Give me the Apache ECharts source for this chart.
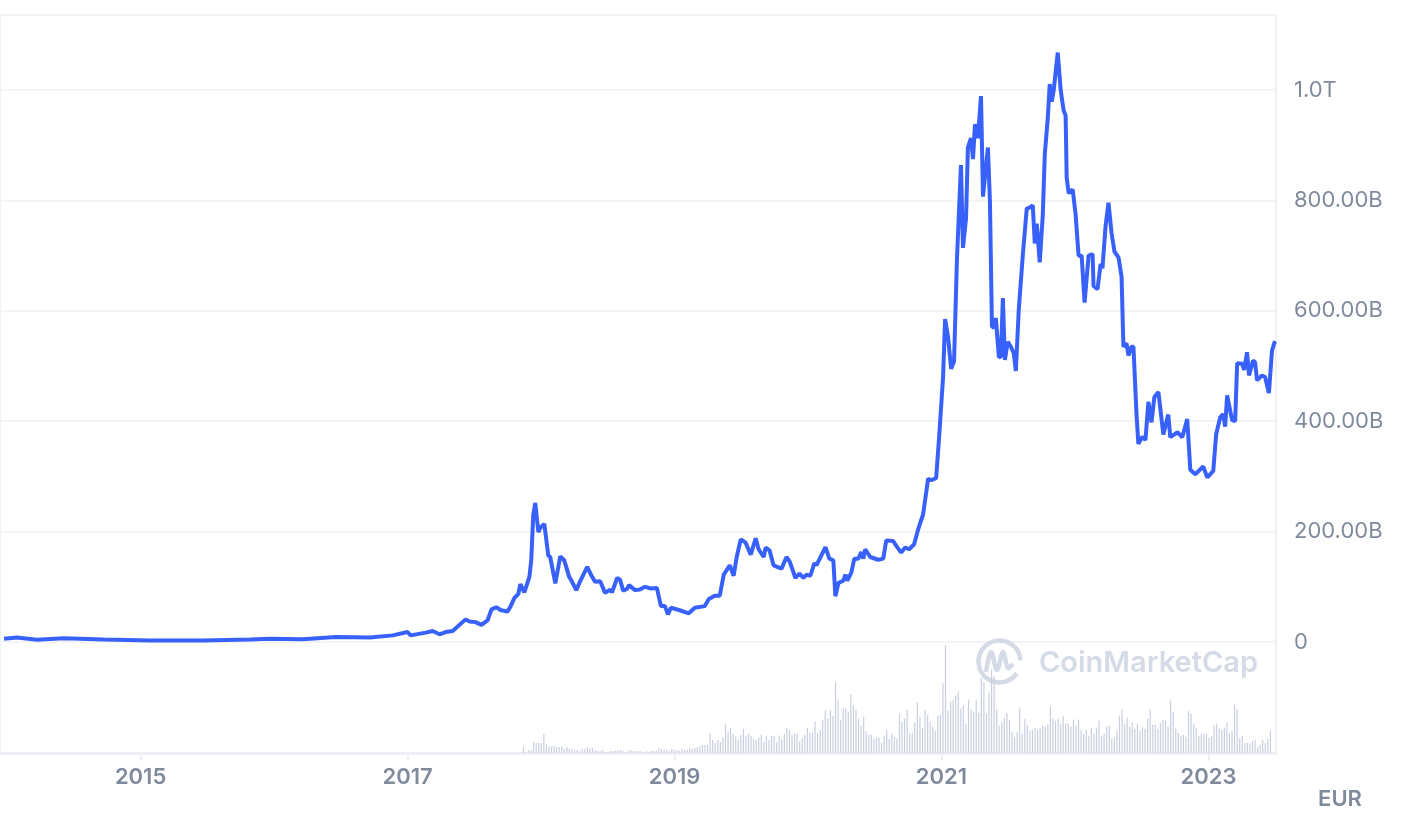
<!DOCTYPE html>
<html>
<head>
<meta charset="utf-8">
<title>Market cap chart</title>
<script src="https://cdn.jsdelivr.net/npm/echarts@6/dist/echarts.min.js"></script>
<style>
  html, body { margin: 0; padding: 0; background: #fff; }
  #chart { width: 1404px; height: 816px; }
</style>
</head>
<body>
<div id="chart"></div>
<script>
// market cap, billions EUR, dates as decimal years
const capYears = [
  2013.977, 2014.074, 2014.223, 2014.425, 2014.724, 2015.075, 2015.47, 2015.821, 2015.971, 2016.217,
  2016.464, 2016.718, 2016.889, 2017.0, 2017.024, 2017.136, 2017.188, 2017.24, 2017.285, 2017.338,
  2017.435, 2017.464, 2017.509, 2017.554, 2017.599, 2017.629, 2017.666, 2017.696, 2017.748, 2017.771,
  2017.801, 2017.83, 2017.845, 2017.875, 2017.913, 2017.927, 2017.942, 2017.957, 2017.98, 2017.995,
  2018.025, 2018.054, 2018.069, 2018.107, 2018.144, 2018.174, 2018.211, 2018.226, 2018.264, 2018.293,
  2018.346, 2018.376, 2018.405, 2018.443, 2018.48, 2018.517, 2018.532, 2018.57, 2018.592, 2018.615,
  2018.644, 2018.659, 2018.704, 2018.741, 2018.779, 2018.824, 2018.868, 2018.898, 2018.928, 2018.951,
  2018.973, 2019.033, 2019.107, 2019.152, 2019.227, 2019.257, 2019.302, 2019.339, 2019.369, 2019.414,
  2019.443, 2019.466, 2019.496, 2019.533, 2019.571, 2019.608, 2019.63, 2019.668, 2019.683, 2019.712,
  2019.742, 2019.802, 2019.839, 2019.862, 2019.906, 2019.936, 2019.966, 2019.989, 2020.018, 2020.048,
  2020.063, 2020.131, 2020.16, 2020.19, 2020.205, 2020.228, 2020.265, 2020.28, 2020.295, 2020.325,
  2020.347, 2020.377, 2020.399, 2020.414, 2020.429, 2020.466, 2020.526, 2020.564, 2020.586, 2020.638,
  2020.668, 2020.698, 2020.728, 2020.758, 2020.795, 2020.825, 2020.862, 2020.885, 2020.9, 2020.922,
  2020.96, 2020.982, 2021.012, 2021.027, 2021.049, 2021.072, 2021.094, 2021.116, 2021.146, 2021.161,
  2021.184, 2021.198, 2021.221, 2021.236, 2021.251, 2021.273, 2021.296, 2021.311, 2021.325, 2021.348,
  2021.363, 2021.378, 2021.393, 2021.407, 2021.43, 2021.445, 2021.46, 2021.475, 2021.497, 2021.52,
  2021.542, 2021.557, 2021.579, 2021.609, 2021.639, 2021.654, 2021.684, 2021.699, 2021.714, 2021.736,
  2021.759, 2021.774, 2021.796, 2021.811, 2021.826, 2021.841, 2021.871, 2021.893, 2021.915, 2021.93,
  2021.938, 2021.953, 2021.983, 2022.005, 2022.027, 2022.05, 2022.072, 2022.102, 2022.132, 2022.139,
  2022.169, 2022.192, 2022.206, 2022.229, 2022.251, 2022.274, 2022.296, 2022.326, 2022.349, 2022.363,
  2022.386, 2022.401, 2022.423, 2022.438, 2022.461, 2022.475, 2022.505, 2022.528, 2022.55, 2022.573,
  2022.595, 2022.625, 2022.662, 2022.699, 2022.714, 2022.767, 2022.804, 2022.841, 2022.864, 2022.901,
  2022.961, 2022.991, 2023.036, 2023.058, 2023.088, 2023.11, 2023.125, 2023.14, 2023.177, 2023.2,
  2023.215, 2023.252, 2023.267, 2023.289, 2023.304, 2023.334, 2023.349, 2023.364, 2023.401, 2023.424,
  2023.453, 2023.476, 2023.498
];
const capB = [
  6, 8, 4, 7, 4.5, 2.5, 2.5, 4.5, 6, 5,
  9, 8, 12, 18, 12, 17, 20, 14, 18, 20,
  41, 37, 36, 31, 39, 59, 63, 58, 55, 64,
  80, 87, 105, 90, 118, 149, 231, 252, 199, 207,
  214, 157, 154, 106, 155, 148, 118, 112, 94, 110,
  136, 121, 109, 110, 89, 95, 90, 116, 113, 93,
  96, 103, 94, 95, 100, 97, 98, 65, 65, 50,
  62, 58, 52, 62, 65, 78, 84, 84, 122, 139,
  120, 154, 186, 180, 158, 188, 168, 154, 171, 166,
  139, 133, 154, 146, 116, 124, 116, 122, 120, 143,
  139, 172, 151, 148, 83, 107, 111, 122, 111, 126,
  151, 151, 163, 151, 168, 154, 149, 151, 184, 183,
  172, 162, 171, 168, 177, 204, 231, 270, 296, 293,
  297, 370, 480, 585, 553, 495, 508, 694, 864, 714,
  768, 896, 913, 875, 938, 913, 989, 807, 841, 896,
  798, 572, 569, 587, 516, 517, 623, 511, 544, 535,
  523, 491, 602, 700, 786, 786, 791, 722, 758, 688,
  774, 884, 948, 1011, 979, 1000, 1068, 1000, 963, 954,
  841, 813, 820, 774, 700, 700, 615, 700, 703, 645,
  639, 685, 677, 753, 796, 741, 707, 697, 662, 535,
  541, 519, 535, 535, 413, 359, 372, 366, 435, 398,
  444, 453, 376, 412, 371, 380, 371, 404, 312, 304,
  318, 298, 310, 377, 407, 413, 390, 447, 402, 400,
  505, 504, 493, 525, 483, 510, 507, 474, 483, 480,
  451, 528, 545
];

// weekly volume (relative units), first week mid-Nov 2017
const volStartYear = 2017.868;
const volumeB = [
  6, 1, 3, 3, 11, 10, 10, 10, 19, 9,
  7, 6, 7, 6, 6, 6, 4, 6, 4, 4,
  3, 3, 2, 4, 4, 6, 5, 5, 3, 2,
  2, 3, 1, 1, 2, 2, 2, 3, 3,
  2, 1, 2, 3, 2, 2, 2, 2, 1,
  2, 1, 2, 2, 2, 5, 4, 3, 3, 2,
  4, 3, 3, 2, 4, 3, 3, 5, 4, 5,
  6, 7, 8, 8, 8, 20, 13, 10, 13, 11,
  15, 29, 21, 25, 19, 16, 13, 18, 24, 17,
  19, 17, 14, 13, 15, 18, 11, 17, 13,
  17, 17, 11, 17, 14, 19, 25, 23, 18, 19,
  19, 12, 15, 18, 25, 20, 20, 31, 20,
  23, 33, 42, 34, 42, 37, 70, 53, 33, 45,
  44, 41, 58, 47, 43, 34, 27, 36, 21,
  18, 18, 14, 15, 15, 10, 17, 23, 14, 19,
  16, 14, 39, 31, 34, 43, 19, 20, 30, 50,
  36, 25, 43, 38, 31, 26, 22, 37, 38, 69,
  107, 42, 51, 53, 57, 61, 44, 47, 29, 53,
  43, 41, 52, 40, 74, 70, 39, 60, 83, 76,
  43, 27, 31, 35, 40, 33, 21, 15, 21, 45,
  19, 34, 28, 22, 23, 25, 23, 24, 27, 26,
  28, 46, 34, 32, 34, 29, 37, 30, 29, 26,
  33, 27, 33, 23, 19, 23, 17, 25, 19,
  25, 32, 17, 19, 26, 27, 14, 15, 22,
  37, 43, 29, 35, 26, 30, 24, 29, 22, 25,
  24, 34, 43, 28, 28, 24, 30, 33, 32, 26,
  52, 41, 24, 20, 17, 18, 16, 42, 39, 29,
  25, 17, 19, 19, 19, 15, 17, 27, 29,
  24, 23, 25, 30, 20, 22, 48, 43, 15, 17,
  10, 10, 10, 12, 13, 6, 8, 13, 10, 14, 22
];

const yearLabels = [2015, 2017, 2019, 2021, 2023];
const capTicks = [0, 200, 400, 600, 800, 1000];
const rangeYears = [2013.947, 2023.506];

const capData = capYears.map((y, i) => [y, capB[i]]);
const volData = volumeB.map((v, i) => [volStartYear + i * 7 / 365.25, v]);

function fmtCap(v) {
  if (capTicks.indexOf(v) < 0) return '';
  if (v === 0) return '0';
  if (v >= 1000) return (v / 1000).toFixed(1) + 'T';
  return v.toFixed(2) + 'B';
}

const chart = echarts.init(document.getElementById('chart'));
const option = {
  animation: false,
  backgroundColor: '#fff',
  textStyle: { fontFamily: 'Inter' },
  // left edge pushed off-canvas so only top/right frame lines show
  grid: [
    { left: -4, right: 128, top: 15, bottom: 174, show: true, borderColor: '#eef0f5', borderWidth: 2 },
    { left: -4, right: 128, top: 642, bottom: 63, show: true, borderColor: '#eef0f5', borderWidth: 2 }
  ],
  xAxis: [
    { type: 'value', gridIndex: 0, min: rangeYears[0], max: rangeYears[1], show: false },
    {
      type: 'value', gridIndex: 1, min: rangeYears[0], max: rangeYears[1],
      axisLine: { lineStyle: { color: '#eff0f5', width: 3 } },
      axisTick: { customValues: yearLabels, length: 8, lineStyle: { color: '#eff0f5', width: 2 } },
      axisLabel: {
        customValues: yearLabels,
        formatter: v => String(Math.round(v)),
        color: '#808a9d', fontSize: 22, fontWeight: 600, margin: 13
      },
      splitLine: { show: false }
    }
  ],
  yAxis: [
    {
      type: 'value', gridIndex: 0, position: 'right', min: 0, max: 1136, interval: 200,
      axisLine: { show: false }, axisTick: { show: false },
      axisLabel: { formatter: fmtCap, color: '#808a9d', fontSize: 22, margin: 18 },
      splitLine: { lineStyle: { color: '#f4f4f6', width: 2 } }
    },
    { type: 'value', gridIndex: 1, min: 0, max: 110, show: false }
  ],
  graphic: [
    {
      type: 'arc', z: 1,
      shape: { cx: 999.5, cy: 661.5, r: 21, startAngle: 0.6, endAngle: Math.PI * 2 - 0.05 },
      style: { stroke: '#d5dbe6', lineWidth: 4.5, fill: null }
    },
    {
      type: 'polyline', z: 1,
      shape: { points: [[986, 672], [991, 652], [997, 670], [1003, 652], [1008, 668], [1013, 664]], smooth: 0.35 },
      style: { stroke: '#d5dbe6', lineWidth: 4.5, fill: null }
    },
    {
      type: 'text', z: 1, x: 1039, y: 663,
      style: { text: 'CoinMarketCap', fontFamily: 'Inter', fontSize: 29, fontWeight: 600, fill: '#d5dbe6', verticalAlign: 'middle' }
    },
    {
      type: 'text', x: 1340, y: 799,
      style: { text: 'EUR', fontFamily: 'Inter', fontSize: 22, fontWeight: 600, fill: '#808a9d', align: 'center', verticalAlign: 'middle' }
    }
  ],
  series: [
    {
      type: 'bar', xAxisIndex: 1, yAxisIndex: 1, data: volData,
      barWidth: 1.2, itemStyle: { color: '#c9cfe0' }, z: 2
    },
    {
      type: 'line', xAxisIndex: 0, yAxisIndex: 0, data: capData,
      showSymbol: false, lineStyle: { color: '#3861fb', width: 4 }, z: 5
    }
  ]
};
chart.setOption(option);
</script>
</body>
</html>
